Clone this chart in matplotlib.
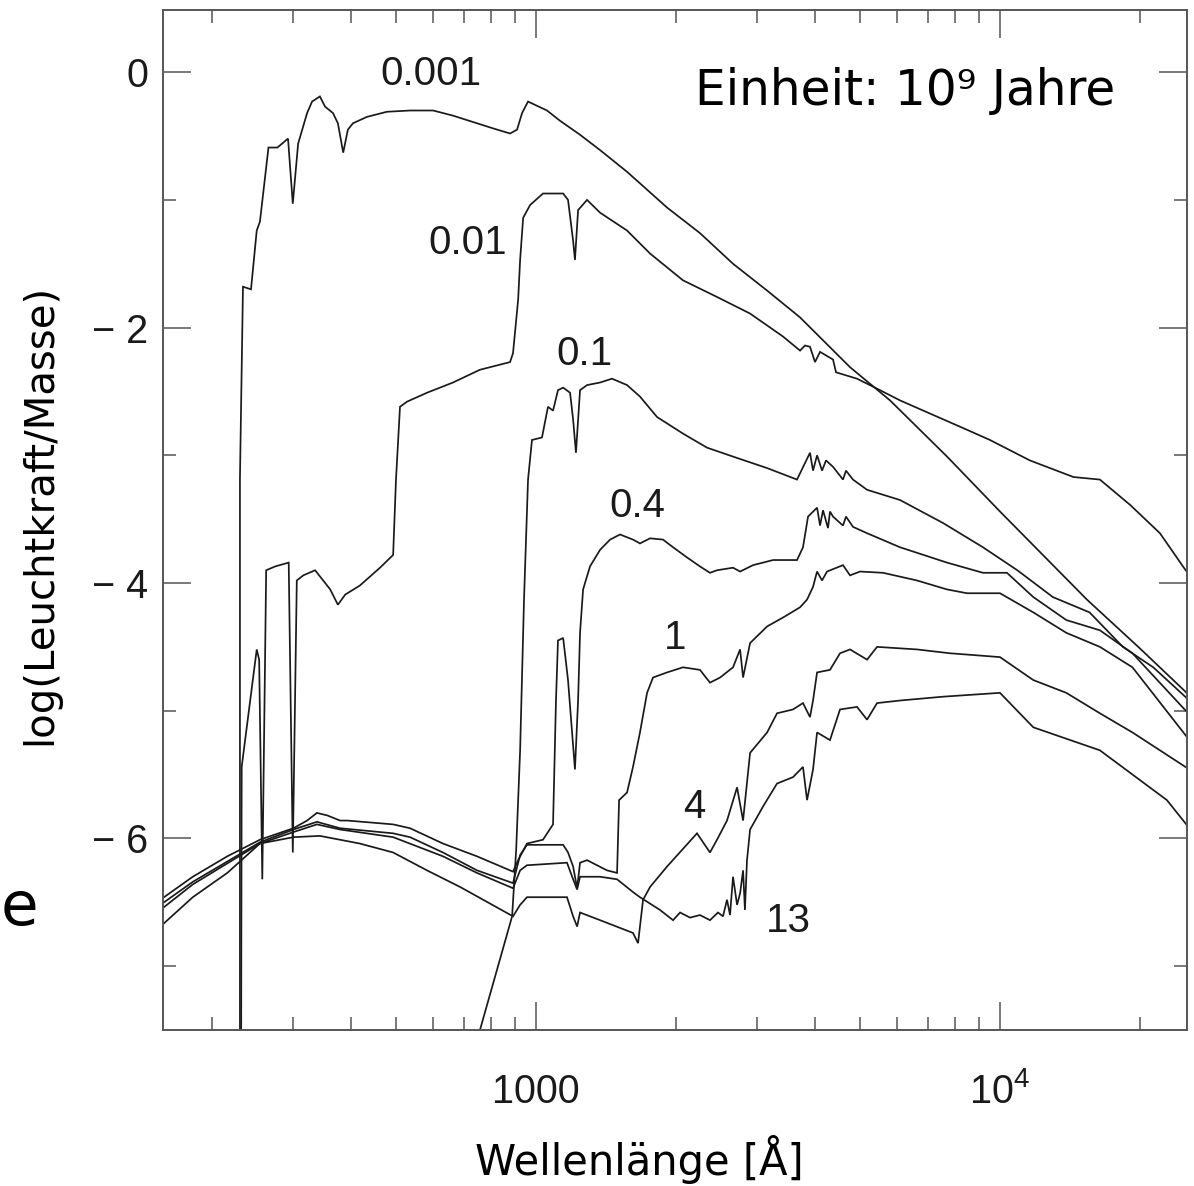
import matplotlib
matplotlib.use("Agg")
import matplotlib.pyplot as plt
from matplotlib.ticker import FixedLocator, FixedFormatter, LogLocator, NullFormatter

plt.rcParams['font.family'] = ['Liberation Sans', 'DejaVu Sans']
plt.rcParams['mathtext.default'] = 'regular'

# Spectra: wavelength [A] and log(L/M), one pair per age (Gyr)
wl_0001 = [230, 230, 233.5, 243, 250, 254, 265, 277, 292, 299, 307, 321, 329, 342, 351, 365, 374, 384, 393, 403,
           432, 477, 535, 600, 662, 746, 808, 879, 910, 933, 961, 1056, 1126, 1244, 1374, 1571, 1916, 2256, 2658, 3148,
           3707, 4751, 5795, 7690, 10000, 15400, 20000, 25600]
lum_0001 = [-9.0, -3.19, -1.68, -1.70, -1.24, -1.17, -0.59, -0.59, -0.52, -1.03, -0.56, -0.32, -0.23, -0.19, -0.27,
            -0.32, -0.40, -0.63, -0.45, -0.40, -0.35, -0.31, -0.30, -0.30, -0.34, -0.40, -0.44, -0.48, -0.45, -0.32,
            -0.23, -0.30, -0.38, -0.49, -0.61, -0.78, -1.06, -1.26, -1.50, -1.71, -1.92, -2.31, -2.57, -3.01, -3.44,
            -4.13, -4.51, -4.88]

wl_001 = [231, 232, 250, 253, 257, 262, 274, 293, 299, 305, 315, 334, 360, 374, 388, 417, 461, 492, 499, 509,
          527, 582, 662, 757, 879, 892, 915, 924, 938, 971, 1035, 1144, 1172, 1202, 1213, 1232, 1288, 1374, 1571, 1761,
          2074, 2455, 2893, 3407, 3707, 3800, 3895, 3993, 4094, 4366, 4432, 4918, 5515, 6089, 8490, 9515, 11600, 14400,
          16420, 19100, 22120, 24800, 25600]
lum_001 = [-9.0, -5.44, -4.52, -4.60, -6.32, -3.90, -3.87, -3.84, -6.11, -3.98, -3.94, -3.90, -4.05, -4.17, -4.09,
           -4.02, -3.88, -3.78, -3.19, -2.62, -2.58, -2.51, -2.43, -2.33, -2.27, -2.20, -1.78, -1.47, -1.14, -1.04,
           -0.95, -0.95, -1.00, -1.32, -1.47, -1.08, -1.00, -1.10, -1.24, -1.42, -1.63, -1.76, -1.89, -2.07, -2.18,
           -2.14, -2.15, -2.27, -2.19, -2.25, -2.35, -2.40, -2.49, -2.57, -2.80, -2.88, -3.04, -3.17, -3.19, -3.39,
           -3.61, -3.87, -3.94]

wl_01 = [721, 757, 888, 906, 924, 942, 961, 980, 1030, 1061, 1088, 1115, 1144, 1184, 1202, 1219, 1244, 1288, 1374,
         1458, 1571, 1675, 1823, 2074, 2336, 2658, 3148, 3652, 3800, 3895, 3954, 4034, 4135, 4217, 4366, 4588, 4657,
         4821, 5170, 6089, 7537, 9190, 10900, 13000, 15600, 18400, 21400, 25600]
lum_01 = [-7.77, -7.50, -6.61, -6.09, -5.31, -4.13, -3.19, -2.88, -2.86, -2.62, -2.65, -2.49, -2.47, -2.51, -2.72,
          -2.98, -2.49, -2.45, -2.43, -2.40, -2.45, -2.54, -2.70, -2.83, -2.94, -3.01, -3.10, -3.19, -3.06, -2.98,
          -3.12, -3.00, -3.12, -3.04, -3.09, -3.19, -3.12, -3.19, -3.27, -3.35, -3.53, -3.72, -3.90, -4.11, -4.23,
          -4.50, -4.66, -4.92]

wl_04 = [150, 155, 182, 216, 254, 300, 321, 337, 355, 378, 392, 492, 535, 630, 746, 892, 915, 956, 1035, 1088,
         1104, 1115, 1144, 1172, 1213, 1232, 1244, 1263, 1307, 1374, 1444, 1517, 1618, 1675, 1761, 1878, 1974, 2116,
         2256, 2371, 2455, 2658, 2753, 2936, 3243, 3652, 3762, 3857, 4034, 4094, 4155, 4259, 4301, 4366, 4588, 4657,
         4821, 5170, 6089, 7687, 9190, 10350, 11800, 13900, 16420, 19300, 25600]
lum_04 = [-6.52, -6.48, -6.30, -6.14, -6.01, -5.92, -5.86, -5.80, -5.82, -5.86, -5.86, -5.89, -5.92, -6.04, -6.14,
          -6.26, -6.17, -6.04, -6.01, -5.89, -4.92, -4.45, -4.43, -4.76, -5.46, -4.92, -4.39, -4.05, -3.87, -3.74,
          -3.66, -3.62, -3.66, -3.69, -3.65, -3.66, -3.72, -3.80, -3.87, -3.92, -3.90, -3.88, -3.91, -3.86, -3.82,
          -3.82, -3.72, -3.48, -3.41, -3.55, -3.43, -3.57, -3.44, -3.48, -3.55, -3.48, -3.56, -3.61, -3.72, -3.84,
          -3.92, -3.92, -4.11, -4.29, -4.37, -4.55, -5.03]

wl_1 = [150, 155, 182, 254, 300, 337, 378, 492, 535, 630, 746, 892, 924, 956, 1144, 1172, 1202, 1226, 1244, 1288,
        1422, 1495, 1510, 1571, 1618, 1675, 1735, 1787, 1916, 2074, 2256, 2371, 2493, 2658, 2753, 2794, 2893, 3148,
        3407, 3707, 3838, 3954, 4034, 4135, 4238, 4588, 4751, 4994, 5597, 6623, 7687, 8490, 10000, 11800, 13900,
        16420, 19300, 25600]
lum_1 = [-6.56, -6.52, -6.34, -6.03, -5.93, -5.87, -5.92, -5.96, -5.99, -6.11, -6.25, -6.35, -6.13, -6.05, -6.05,
         -6.11, -6.22, -6.39, -6.19, -6.17, -6.25, -6.27, -5.70, -5.64, -5.44, -5.17, -4.86, -4.74, -4.70, -4.66,
         -4.68, -4.78, -4.74, -4.66, -4.52, -4.74, -4.47, -4.34, -4.27, -4.19, -4.13, -4.03, -3.91, -3.98, -3.91,
         -3.86, -3.94, -3.91, -3.92, -3.98, -4.05, -4.08, -4.08, -4.23, -4.39, -4.50, -4.66, -5.23]

wl_4 = [150, 155, 182, 216, 254, 300, 342, 417, 492, 582, 686, 892, 924, 956, 1166, 1202, 1226, 1244, 1374, 1618,
        1659, 1701, 1761, 1916, 2223, 2371, 2455, 2580, 2712, 2794, 2893, 3148, 3307, 3580, 3762, 3895, 3954, 4034,
        4301, 4521, 4751, 5170, 5433, 6623, 7800, 10000, 11800, 13900, 16420, 19300, 25600]
lum_4 = [-6.75, -6.69, -6.46, -6.27, -6.04, -5.99, -5.98, -6.04, -6.11, -6.25, -6.38, -6.61, -6.52, -6.46, -6.46,
         -6.61, -6.69, -6.58, -6.64, -6.74, -6.82, -6.48, -6.38, -6.22, -5.96, -6.11, -6.01, -5.86, -5.60, -5.86,
         -5.33, -5.17, -5.02, -4.99, -4.94, -5.05, -4.92, -4.70, -4.68, -4.55, -4.52, -4.60, -4.50, -4.52, -4.55,
         -4.58, -4.76, -4.86, -5.02, -5.17, -5.46]

wl_13 = [150, 155, 182, 254, 300, 337, 378, 492, 630, 746, 892, 924, 956, 1166, 1202, 1226, 1244, 1374, 1495, 1618,
         1675, 1850, 1974, 2044, 2147, 2256, 2371, 2467, 2529, 2580, 2619, 2658, 2712, 2753, 2794, 2820, 2849, 2893,
         3085, 3307, 3580, 3762, 3838, 3954, 4034, 4301, 4521, 4918, 5170, 5433, 6089, 7537, 10000, 11800, 16420,
         22900, 25600]
lum_13 = [-6.60, -6.56, -6.36, -6.04, -5.95, -5.89, -5.93, -5.99, -6.14, -6.27, -6.39, -6.25, -6.21, -6.19, -6.32,
          -6.40, -6.30, -6.30, -6.32, -6.42, -6.46, -6.56, -6.64, -6.58, -6.62, -6.60, -6.64, -6.58, -6.61, -6.48,
          -6.60, -6.30, -6.52, -6.43, -6.25, -6.56, -6.17, -5.93, -5.75, -5.57, -5.52, -5.44, -5.70, -5.46, -5.17,
          -5.23, -4.99, -4.97, -5.07, -4.94, -4.92, -4.89, -4.86, -5.13, -5.31, -5.70, -5.92]

# age labels and where they sit
age_labels = ['0.001', '0.01', '0.1', '0.4', '1', '4', '13']
label_wl = [594, 714, 1269, 1651, 1993, 2190, 3490]
label_lum = [-0.10, -1.42, -2.29, -3.48, -4.52, -5.84, -6.73]

y_ticks = [-6, -4, -2, 0]
y_ticklabels = ['\u2212 6', '\u2212 4', '\u2212 2', '0']
x_ticks = [1000, 10000]
x_ticklabels = ['1000', '$\\mathregular{10^{4}}$']

W, H = 1194, 1186
fig = plt.figure(figsize=(W / 100, H / 100), dpi=100)
ax = fig.add_axes([163 / W, 1 - 1030 / H, 1024 / W, 1020 / H])

line_kw = dict(color='#1a1a1a', lw=1.25, solid_joinstyle='miter')
for wl, lum in [(wl_0001, lum_0001), (wl_001, lum_001), (wl_01, lum_01), (wl_04, lum_04),
                (wl_1, lum_1), (wl_4, lum_4), (wl_13, lum_13)]:
    ax.plot(wl, lum, **line_kw)

for txt, x, y in zip(age_labels, label_wl, label_lum):
    ax.text(x, y, txt, ha='center', va='baseline', fontsize=29, color='#1a1a1a')

ax.set_xscale('log')
ax.set_xlim(157, 25300)
ax.set_ylim(-7.5, 0.487)

ax.xaxis.set_major_locator(FixedLocator(x_ticks))
ax.xaxis.set_major_formatter(FixedFormatter(x_ticklabels))
ax.xaxis.set_minor_locator(LogLocator(base=10, subs=range(2, 10)))
ax.xaxis.set_minor_formatter(NullFormatter())
ax.yaxis.set_major_locator(FixedLocator(y_ticks))
ax.yaxis.set_major_formatter(FixedFormatter(y_ticklabels))
ax.yaxis.set_minor_locator(FixedLocator([-7, -5, -3, -1]))

ax.tick_params(which='both', direction='in', top=True, right=True, color='#555555', width=1.1)
ax.tick_params(which='major', length=20)
ax.tick_params(which='minor', length=9.5)
ax.tick_params(axis='y', which='major', pad=10.8, labelsize=28.5, labelcolor='#1a1a1a')
ax.tick_params(axis='x', which='major', pad=52.5, labelsize=28.5, labelcolor='#1a1a1a')
for lab in ax.get_xticklabels():
    lab.set_va('baseline')

for sp in ax.spines.values():
    sp.set_color('#555555')
    sp.set_linewidth(1.4)

ax.set_xlabel('Wellenlänge [Å]', fontsize=30, family='DejaVu Sans', va='baseline')
ax.xaxis.set_label_coords(476 / 1024, -145 / 1020)
ax.set_ylabel('log(Leuchtkraft/Masse)', fontsize=29, family='DejaVu Sans', va='center')
ax.yaxis.set_label_coords(-123 / 1024, 516 / 1020)

fig.text(695 / W, 1 - 105 / H, 'Einheit: 10\u2079 Jahre', fontsize=35, family='DejaVu Sans',
         ha='left', va='baseline')
# fragment of a neighbouring label at the left edge
fig.text(1 / W, 1 - 925 / H, 'e', fontsize=44, family='DejaVu Sans', ha='left', va='baseline')

fig.savefig('out.png', dpi=100, facecolor='white')
